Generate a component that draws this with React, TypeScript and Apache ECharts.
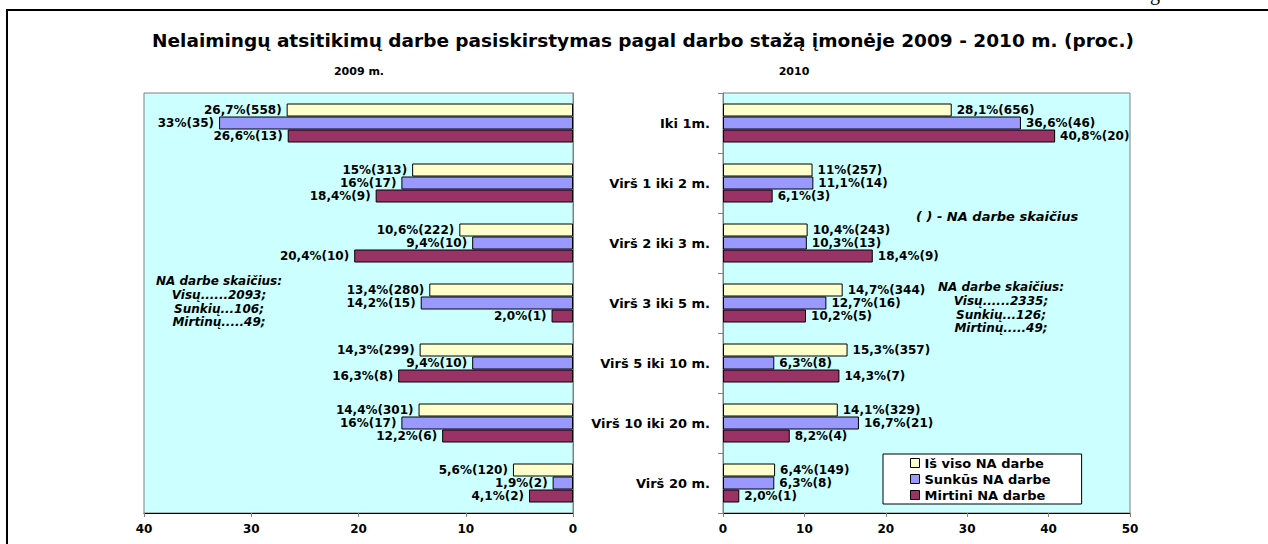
import React, { useEffect, useRef } from 'react';
import * as echarts from 'echarts';

const categories = ['Iki 1m.', 'Virš 1 iki 2 m.', 'Virš 2 iki 3 m.', 'Virš 3 iki 5 m.', 'Virš 5 iki 10 m.', 'Virš 10 iki 20 m.', 'Virš 20 m.'];
const seriesNames = ['Iš viso NA darbe', 'Sunkūs NA darbe', 'Mirtini NA darbe'];
const colors = ['#ffffcc', '#9999ff', '#993366'];

const total2009 = [26.7, 15, 10.6, 13.4, 14.3, 14.4, 5.6];
const severe2009 = [33, 16, 9.4, 14.2, 9.4, 16, 1.9];
const fatal2009 = [26.6, 18.4, 20.4, 2.0, 16.3, 12.2, 4.1];
const total2009Labels = ['26,7%(558)', '15%(313)', '10,6%(222)', '13,4%(280)', '14,3%(299)', '14,4%(301)', '5,6%(120)'];
const severe2009Labels = ['33%(35)', '16%(17)', '9,4%(10)', '14,2%(15)', '9,4%(10)', '16%(17)', '1,9%(2)'];
const fatal2009Labels = ['26,6%(13)', '18,4%(9)', '20,4%(10)', '2,0%(1)', '16,3%(8)', '12,2%(6)', '4,1%(2)'];

const total2010 = [28.1, 11, 10.4, 14.7, 15.3, 14.1, 6.4];
const severe2010 = [36.6, 11.1, 10.3, 12.7, 6.3, 16.7, 6.3];
const fatal2010 = [40.8, 6.1, 18.4, 10.2, 14.3, 8.2, 2.0];
const total2010Labels = ['28,1%(656)', '11%(257)', '10,4%(243)', '14,7%(344)', '15,3%(357)', '14,1%(329)', '6,4%(149)'];
const severe2010Labels = ['36,6%(46)', '11,1%(14)', '10,3%(13)', '12,7%(16)', '6,3%(8)', '16,7%(21)', '6,3%(8)'];
const fatal2010Labels = ['40,8%(20)', '6,1%(3)', '18,4%(9)', '10,2%(5)', '14,3%(7)', '8,2%(4)', '2,0%(1)'];

const note2009 = ['NA darbe skaičius:', 'Visų......2093;', 'Sunkių...106;', 'Mirtinų.....49;'];
const note2010 = ['NA darbe skaičius:', 'Visų......2335;', 'Sunkių...126;', 'Mirtinų.....49;'];
const bracketNote = '( ) - NA darbe skaičius';
const mainTitle = 'Nelaimingų atsitikimų darbe pasiskirstymas pagal darbo stažą įmonėje 2009 - 2010 m. (proc.)';
const title2009 = '2009 m.';
const title2010 = '2010';

const FONT = '"DejaVu Sans", Verdana, sans-serif';

function makeSeries(name: string, data: number[], labels: string[], color: string, idx: number, left: boolean) {
  return {
    type: 'bar',
    name,
    xAxisIndex: idx,
    yAxisIndex: idx,
    data,
    barWidth: 13,
    barGap: '0%',
    itemStyle: { color, borderColor: '#000', borderWidth: 1 },
    label: {
      show: true,
      position: left ? 'left' : 'right',
      distance: 5,
      formatter: (p: any) => labels[p.dataIndex],
      fontFamily: FONT,
      fontWeight: 'bold',
      fontSize: 12,
      color: '#000',
    },
  };
}

export default function App() {
  const ref = useRef<HTMLDivElement>(null);
  useEffect(() => {
    document.body.style.margin = '0';
    const chart = echarts.init(ref.current!, null, { renderer: 'svg' });
    const valueAxisCommon = {
      type: 'value',
      min: 0,
      interval: 10,
      axisLine: { show: true, lineStyle: { color: '#000', width: 1 } },
      axisTick: { show: true, length: 4, lineStyle: { color: '#808080' } },
      splitLine: { show: false },
      axisLabel: { fontFamily: FONT, fontWeight: 'bold', fontSize: 12, color: '#000', margin: 10 },
    };
    const noteText = (lines: string[], cx: number, y0: number) =>
      lines.map((t, i) => ({
        type: 'text',
        x: cx,
        y: y0 + i * 13.9,
        style: {
          text: t,
          textAlign: 'center',
          textVerticalAlign: 'middle',
          font: `italic bold 12px ${FONT}`,
          fill: '#000',
        },
      }));
    const option: any = {
      animation: false,
      backgroundColor: '#fff',
      grid: [
        { left: 144, top: 93, width: 429, height: 420, show: true, backgroundColor: '#ccffff', borderColor: '#808080', borderWidth: 1 },
        { left: 723, top: 93, width: 407, height: 420, show: true, backgroundColor: '#ccffff', borderColor: '#808080', borderWidth: 1 },
      ],
      xAxis: [
        { ...valueAxisCommon, gridIndex: 0, max: 40, inverse: true },
        { ...valueAxisCommon, gridIndex: 1, max: 50 },
      ],
      yAxis: [
        {
          type: 'category', gridIndex: 0, data: categories, inverse: true,
          axisLine: { show: true, lineStyle: { color: '#808080' } },
          axisTick: { show: false }, axisLabel: { show: false },
        },
        {
          type: 'category', gridIndex: 1, data: categories, inverse: true,
          axisLine: { show: true, lineStyle: { color: '#808080' } },
          axisTick: { show: true, length: 5, lineStyle: { color: '#808080' } },
          axisLabel: { fontFamily: FONT, fontWeight: 'bold', fontSize: 13, color: '#000', margin: 13 },
        },
      ],
      legend: {
        data: seriesNames,
        orient: 'vertical',
        left: 883,
        top: 454,
        padding: [2, 31, 2, 27],
        itemGap: 2,
        itemWidth: 9,
        itemHeight: 9,
        itemTextGap: 6,
        icon: 'rect',
        backgroundColor: '#fff',
        borderColor: '#000',
        borderWidth: 1,
        itemStyle: { borderColor: '#000', borderWidth: 1 },
        textStyle: { fontFamily: FONT, fontWeight: 'bold', fontSize: 13, color: '#000', lineHeight: 14 },
        selectedMode: false,
      },
      series: [
        makeSeries(seriesNames[0], total2009, total2009Labels, colors[0], 0, true),
        makeSeries(seriesNames[1], severe2009, severe2009Labels, colors[1], 0, true),
        makeSeries(seriesNames[2], fatal2009, fatal2009Labels, colors[2], 0, true),
        makeSeries(seriesNames[0], total2010, total2010Labels, colors[0], 1, false),
        makeSeries(seriesNames[1], severe2010, severe2010Labels, colors[1], 1, false),
        makeSeries(seriesNames[2], fatal2010, fatal2010Labels, colors[2], 1, false),
      ],
      graphic: [
        {
          type: 'rect',
          shape: { x: 7, y: 10, width: 1400, height: 700 },
          style: { fill: 'none', stroke: '#000', lineWidth: 2 },
          silent: true,
        },
        {
          type: 'text', x: 1150, y: -17,
          style: { text: 'g', font: '20px "Liberation Serif", serif', fill: '#000' },
        },
        {
          type: 'text', x: 643, y: 40,
          style: { text: mainTitle, textAlign: 'center', textVerticalAlign: 'middle', font: `bold 18.5px ${FONT}`, fill: '#000' },
        },
        {
          type: 'text', x: 359, y: 71,
          style: { text: title2009, textAlign: 'center', textVerticalAlign: 'middle', font: `bold 11px ${FONT}`, fill: '#000' },
        },
        {
          type: 'text', x: 794, y: 71,
          style: { text: title2010, textAlign: 'center', textVerticalAlign: 'middle', font: `bold 11px ${FONT}`, fill: '#000' },
        },
        ...noteText(note2009, 219, 280.7),
        ...noteText(note2010, 1001, 286.7),
        {
          type: 'text', x: 916, y: 216.7,
          style: { text: bracketNote, textAlign: 'left', textVerticalAlign: 'middle', font: `italic bold 13px ${FONT}`, fill: '#000' },
        },
      ],
    };
    chart.setOption(option);
    return () => chart.dispose();
  }, []);
  return <div ref={ref} style={{ width: 1268, height: 544 }} />;
}
